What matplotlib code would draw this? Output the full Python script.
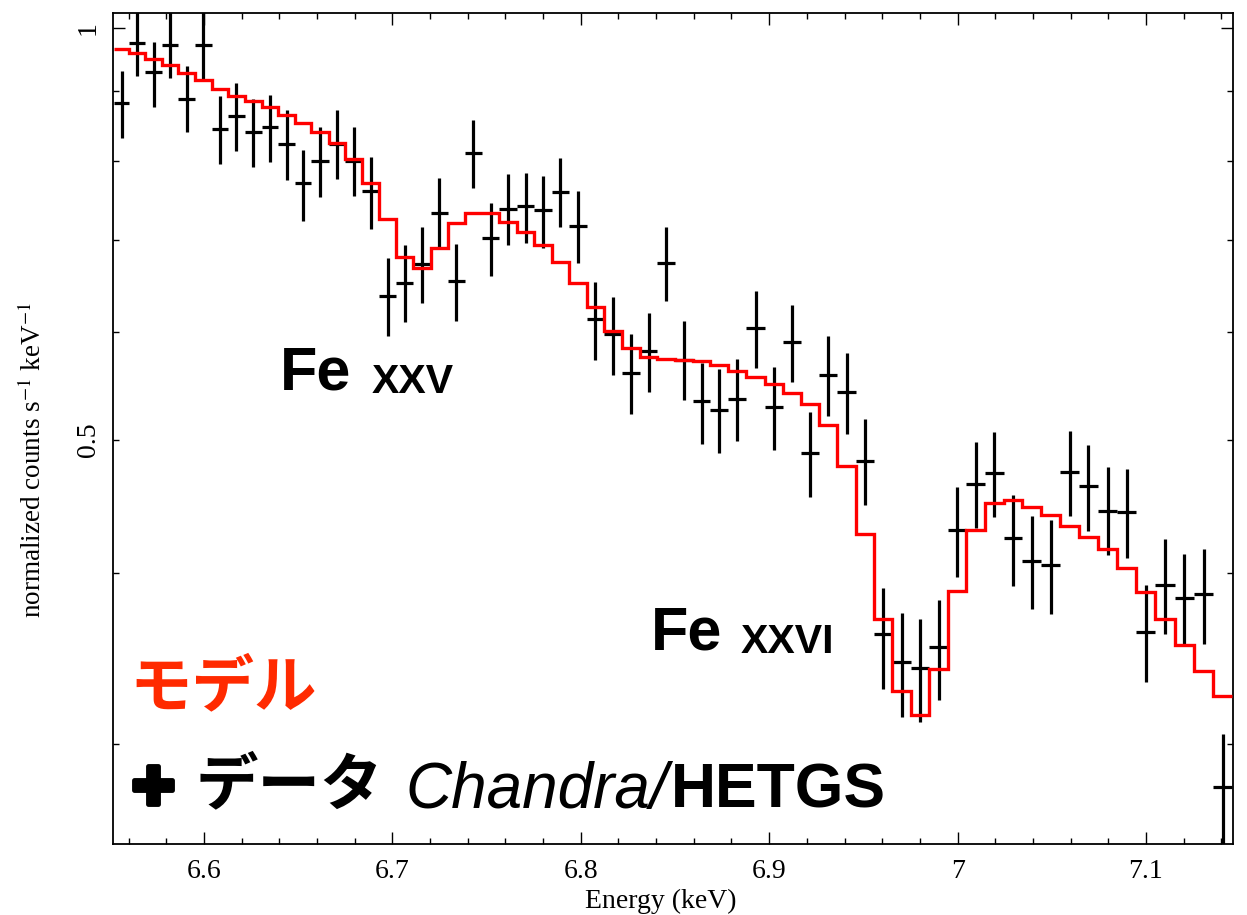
import numpy as np
import matplotlib.pyplot as plt
import matplotlib.patheffects as pe

# Chandra/HETGS spectrum around the Fe K lines
energy = [6.5563, 6.5646, 6.5733, 6.5820, 6.5908, 6.5996, 6.6085, 6.6171, 6.6262, 6.6350,
          6.6439, 6.6525, 6.6616, 6.6706, 6.6796, 6.6885, 6.6975, 6.7065, 6.7157, 6.7249,
          6.7339, 6.7429, 6.7522, 6.7615, 6.7708, 6.7799, 6.7891, 6.7985, 6.8077, 6.8171,
          6.8265, 6.8360, 6.8454, 6.8548, 6.8642, 6.8735, 6.8831, 6.8928, 6.9024, 6.9121,
          6.9217, 6.9314, 6.9411, 6.9509, 6.9606, 6.9703, 6.9800, 6.9900, 6.9998, 7.0096,
          7.0195, 7.0294, 7.0395, 7.0494, 7.0595, 7.0694, 7.0797, 7.0898, 7.1000, 7.1101,
          7.1203, 7.1306, 7.1407]

rate = [0.881, 0.975, 0.928, 0.972, 0.888, 0.972, 0.844, 0.862, 0.839, 0.846,
        0.823, 0.770, 0.800, 0.823, 0.800, 0.760, 0.637, 0.651, 0.672, 0.733,
        0.653, 0.811, 0.702, 0.738, 0.741, 0.736, 0.759, 0.717, 0.613, 0.598,
        0.560, 0.581, 0.674, 0.572, 0.534, 0.526, 0.536, 0.604, 0.529, 0.590,
        0.489, 0.558, 0.542, 0.483, 0.361, 0.344, 0.341, 0.353, 0.430, 0.464,
        0.473, 0.424, 0.408, 0.405, 0.474, 0.463, 0.444, 0.443, 0.362, 0.392,
        0.383, 0.386, 0.279]

rate_hi = [0.930, 1.030, 0.977, 1.030, 0.938, 1.035, 0.892, 0.911, 0.887, 0.894,
           0.871, 0.815, 0.847, 0.871, 0.847, 0.805, 0.679, 0.694, 0.715, 0.777,
           0.695, 0.857, 0.745, 0.782, 0.784, 0.780, 0.803, 0.760, 0.652, 0.636,
           0.598, 0.619, 0.715, 0.611, 0.569, 0.563, 0.573, 0.642, 0.565, 0.628,
           0.524, 0.596, 0.579, 0.518, 0.390, 0.374, 0.370, 0.382, 0.462, 0.498,
           0.507, 0.456, 0.440, 0.437, 0.508, 0.496, 0.478, 0.476, 0.392, 0.423,
           0.413, 0.416, 0.305]

rate_lo = [0.831, 0.922, 0.876, 0.920, 0.839, 0.916, 0.795, 0.813, 0.791, 0.798,
           0.775, 0.723, 0.753, 0.776, 0.754, 0.713, 0.596, 0.610, 0.630, 0.689,
           0.611, 0.764, 0.659, 0.694, 0.696, 0.691, 0.715, 0.674, 0.572, 0.558,
           0.522, 0.542, 0.632, 0.535, 0.497, 0.489, 0.499, 0.564, 0.492, 0.551,
           0.454, 0.521, 0.505, 0.448, 0.329, 0.314, 0.311, 0.323, 0.397, 0.431,
           0.439, 0.391, 0.376, 0.373, 0.440, 0.429, 0.412, 0.410, 0.333, 0.361,
           0.355, 0.355, 0.250]

model = [0.966, 0.959, 0.949, 0.939, 0.927, 0.916, 0.903, 0.892, 0.884, 0.875,
         0.864, 0.853, 0.839, 0.824, 0.802, 0.771, 0.725, 0.680, 0.668, 0.691,
         0.720, 0.733, 0.732, 0.722, 0.709, 0.694, 0.675, 0.651, 0.625, 0.601,
         0.584, 0.575, 0.573, 0.572, 0.571, 0.567, 0.562, 0.556, 0.549, 0.541,
         0.531, 0.513, 0.479, 0.427, 0.370, 0.328, 0.315, 0.340, 0.388, 0.430,
         0.450, 0.452, 0.447, 0.441, 0.433, 0.425, 0.416, 0.403, 0.387, 0.370,
         0.354, 0.339, 0.325]

x_ticks = [6.6, 6.7, 6.8, 6.9, 7.0, 7.1]
x_ticklabels = ["6.6", "6.7", "6.8", "6.9", "7", "7.1"]

plt.rcParams['font.family'] = "Liberation Serif"
plt.rcParams['mathtext.fontset'] = "stix"

e = np.array(energy)
r = np.array(rate)
mid = (e[1:] + e[:-1]) / 2
edges = np.concatenate([[e[0] - (mid[0] - e[0])], mid, [e[-1] + (e[-1] - mid[-1])]])
half = np.vstack([e - edges[:-1], edges[1:] - e])
yerr = np.vstack([r - np.array(rate_lo), np.array(rate_hi) - r])

fig = plt.figure(figsize=(12.47, 9.15), dpi=100)
ax = fig.add_axes([113 / 1247, 71 / 915, 1120 / 1247, 831 / 915])

ax.errorbar(e, r, xerr=half, yerr=yerr, fmt="none", ecolor="black",
            elinewidth=2.3, capsize=0, zorder=2)
ax.stairs(model, edges, baseline=None, color="red", linewidth=2.4, zorder=3)

ax.set_yscale("log")
ax.set_xlim(6.5517, 7.1462)
ax.set_ylim(0.2534, 1.0256)

ax.set_xticks(x_ticks, labels=x_ticklabels)
ax.set_xticks(np.arange(6.56, 7.15, 0.02), minor=True)
ax.set_yticks([1.0], labels=["1"])
ax.set_yticks([0.3, 0.4, 0.5, 0.6, 0.7, 0.8, 0.9],
              labels=["", "", "0.5", "", "", "", ""], minor=True)

ax.tick_params(which="both", direction="in", top=True, right=True, width=1.0,
               labelsize=20, colors="black")
ax.tick_params(which="major", length=8.6)
ax.tick_params(which="minor", length=4.3)
ax.tick_params(axis="x", which="both", pad=11)
ax.tick_params(axis="y", which="both", pad=9, labelrotation=90)
for lab in ax.get_yticklabels(which="both"):
    lab.set_verticalalignment("center")
for sp in ax.spines.values():
    sp.set_linewidth(1.3)

ax.set_xlabel("Energy (keV)", fontsize=20)
ax.set_ylabel(r"normalized counts s$^{-1}$ keV$^{-1}$", fontsize=19.5)
ax.xaxis.set_label_coords(0.4888, -0.054)
ax.yaxis.set_label_coords(-0.059, 0.462)

# line labels
sans = "Liberation Sans"
fig.text(280 / 1247, 1 - 390 / 915, "Fe", fontsize=44, fontweight="bold",
         family=sans, va="baseline")
fig.text(372 / 1247, 1 - 393 / 915, "XXV", fontsize=29.5, fontweight="bold",
         family=sans, va="baseline")
fig.text(651 / 1247, 1 - 650 / 915, "Fe", fontsize=44, fontweight="bold",
         family=sans, va="baseline")
fig.text(741 / 1247, 1 - 653 / 915, "XXVI", fontsize=29.5, fontweight="bold",
         family=sans, va="baseline")

# legend-like captions
fig.text(129 / 1247, 1 - 688 / 915, "モデル", fontsize=45, fontweight="bold",
         color="#ff2a00", family=["Noto Sans CJK JP", "DejaVu Sans"], va="center")
fig.text(131 / 1247, 1 - 789 / 915, "✚", fontsize=38, color="black",
         family=["DejaVu Sans"], va="center",
         path_effects=[pe.withStroke(linewidth=3.5, foreground="black")])
fig.text(196 / 1247, 1 - 786 / 915, "データ", fontsize=45, fontweight="bold",
         color="black", family=["Noto Sans CJK JP", "DejaVu Sans"], va="center")
fig.text(405 / 1247, 1 - 808 / 915, "Chandra/", fontsize=46, style="italic",
         family=sans, va="baseline")
fig.text(671 / 1247, 1 - 808 / 915, "HETGS", fontsize=45, fontweight="bold",
         family=sans, va="baseline")

fig.savefig("out.png", dpi=100)
